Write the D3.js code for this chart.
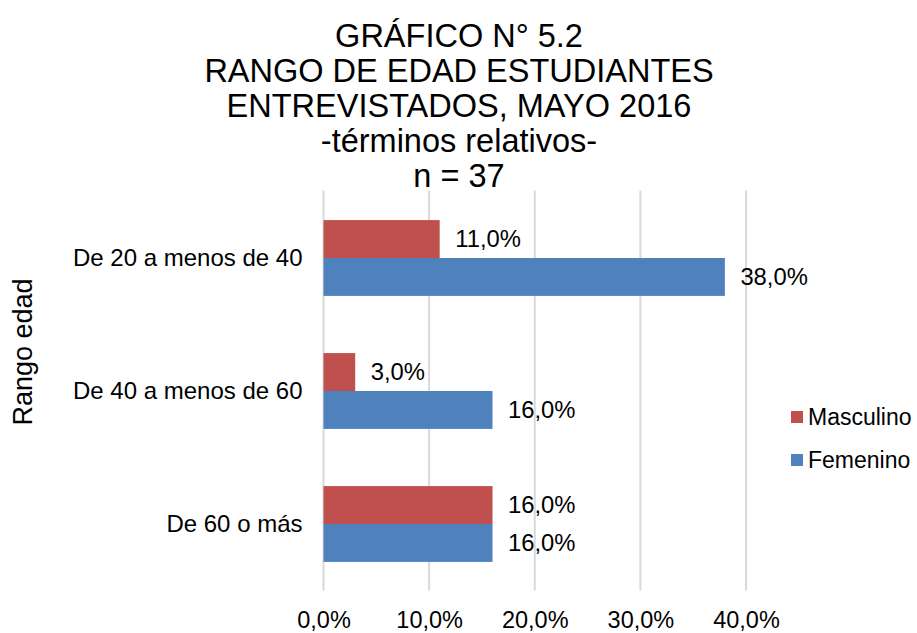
<!DOCTYPE html>
<html>
<head>
<meta charset="utf-8">
<script src="https://cdn.jsdelivr.net/npm/d3@7"></script>
<style>
  html, body { margin: 0; padding: 0; background: #fff; }
  svg { display: block; }
  text { font-family: "Liberation Sans", Arial, sans-serif; fill: #000; }
</style>
</head>
<body>
<svg id="chart" width="917" height="633"></svg>
<script>
const titleLines = ["GRÁFICO N° 5.2", "RANGO DE EDAD ESTUDIANTES", "ENTREVISTADOS, MAYO 2016", "-términos relativos-", "n = 37"];
const categories = ["De 20 a menos de 40", "De 40 a menos de 60", "De 60 o más"];
const seriesNames = ["Masculino", "Femenino"];
const masculino = [11.0, 3.0, 16.0];
const femenino = [38.0, 16.0, 16.0];
const xTicks = [0, 10, 20, 30, 40];
const colors = ["#C0504D", "#4F81BD"];
const yAxisTitle = "Rango edad";

const svg = d3.select("#chart");
const plot = { left: 323.5, right: 746, top: 191.5, bottom: 590.5 };

const x = d3.scaleLinear().domain([0, 40]).range([plot.left, plot.right]);
const y = d3.scaleBand().domain(categories).range([plot.top, plot.bottom]).paddingInner(0.43).paddingOuter(0.215);
const ySub = d3.scaleBand().domain(seriesNames).range([0, y.bandwidth()]);

const fmt = v => v.toFixed(1).replace(".", ",") + "%";

// Title
svg.append("g").selectAll("text").data(titleLines).join("text")
  .attr("x", 459).attr("y", (d, i) => 46.5 + i * 35)
  .attr("text-anchor", "middle").attr("font-size", 32.5)
  .text(d => d);

// Gridlines
svg.append("g").selectAll("line").data(xTicks).join("line")
  .attr("x1", d => x(d)).attr("x2", d => x(d))
  .attr("y1", plot.top - 1).attr("y2", plot.bottom)
  .attr("stroke", "#D9D9D9").attr("stroke-width", 2);

// x axis tick labels
const xAxis = d3.axisBottom(x).tickValues(xTicks).tickSize(0).tickPadding(0).tickFormat(fmt);
const gx = svg.append("g").attr("transform", `translate(0,${plot.bottom})`).call(xAxis);
gx.select(".domain").remove();
gx.selectAll("text").attr("font-size", 23.5).attr("font-family", "Liberation Sans, Arial, sans-serif").attr("fill", "#000").attr("dy", null).attr("y", 37.5);

// y axis labels
const yAxis = d3.axisLeft(y).tickSize(0).tickPadding(0);
const gy = svg.append("g").attr("transform", `translate(${plot.left - 21},0)`).call(yAxis);
gy.select(".domain").remove();
gy.selectAll("text").attr("font-size", 24).attr("font-family", "Liberation Sans, Arial, sans-serif").attr("fill", "#000").attr("dy", "0.35em");

// Bars
const data = categories.map((c, i) => ({ cat: c, values: [masculino[i], femenino[i]] }));
const groups = svg.append("g").selectAll("g").data(data).join("g")
  .attr("transform", d => `translate(0,${y(d.cat)})`);
groups.selectAll("rect").data(d => d.values.map((v, j) => ({ s: seriesNames[j], v, j }))).join("rect")
  .attr("x", x(0)).attr("y", d => ySub(d.s))
  .attr("width", d => x(d.v) - x(0)).attr("height", ySub.bandwidth())
  .attr("fill", d => colors[d.j]);

// Data labels
groups.selectAll("text").data(d => d.values.map((v, j) => ({ s: seriesNames[j], v, j }))).join("text")
  .attr("x", d => x(d.v) + 15.5).attr("y", d => ySub(d.s) + ySub.bandwidth() / 2)
  .attr("dy", "0.35em").attr("font-size", 23.8)
  .text(d => fmt(d.v));

// Y axis title
svg.append("text").attr("transform", `translate(32,352) rotate(-90)`)
  .attr("text-anchor", "middle").attr("font-size", 27).text(yAxisTitle);

// Legend
const leg = svg.append("g").selectAll("g").data(seriesNames).join("g")
  .attr("transform", (d, i) => `translate(791,${411 + i * 43})`);
leg.append("rect").attr("width", 12).attr("height", 12).attr("fill", (d, i) => colors[i]);
leg.append("text").attr("x", 17).attr("y", 6).attr("dy", "0.35em").attr("font-size", 23).text(d => d);
</script>
</body>
</html>
